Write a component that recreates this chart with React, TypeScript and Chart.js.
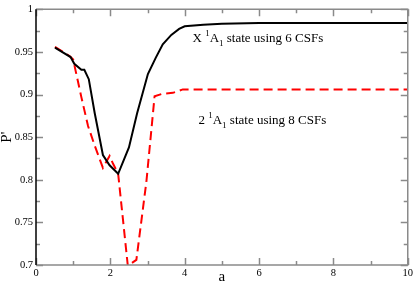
import React, { useEffect, useRef } from "react";
import { Chart, registerables } from "chart.js";

Chart.register(...registerables);

const blackX = [0.51, 0.93, 1.03, 1.22, 1.3, 1.42, 1.58, 1.8, 1.98, 2.21, 2.5, 2.72, 3.01, 3.22, 3.41, 3.64, 3.85, 4.0, 4.5, 5.0, 6, 7, 8, 9, 10];
const blackY = [0.955, 0.944, 0.936, 0.929, 0.929, 0.918, 0.878, 0.829, 0.817, 0.807, 0.838, 0.878, 0.924, 0.943, 0.959, 0.97, 0.977, 0.98, 0.982, 0.983, 0.984, 0.984, 0.984, 0.984, 0.984];
const redX = [0.51, 0.91, 1.0, 1.22, 1.4, 1.58, 1.8, 1.98, 2.07, 2.21, 2.47, 2.7, 2.97, 3.19, 3.41, 3.68, 3.95, 4.5, 5, 6, 7, 8, 9, 10];
const redY = [0.956, 0.945, 0.941, 0.897, 0.863, 0.84, 0.814, 0.828, 0.819, 0.807, 0.699, 0.706, 0.798, 0.898, 0.901, 0.902, 0.906, 0.906, 0.906, 0.906, 0.906, 0.906, 0.906, 0.906];
const xTicks = [0, 2, 4, 6, 8, 10];
const yTicks = [0.7, 0.75, 0.8, 0.85, 0.9, 0.95, 1];
const xMinorTicks = [1, 3, 5, 7, 9];
const yMinorTicks = [0.725, 0.775, 0.825, 0.875, 0.925, 0.975];
const labelBlack = { x: 4.21, y: 0.962, pre: "X ", sup: "1", main: "A", sub: "1", post: " state using 6 CSFs" };
const labelRed = { x: 4.37, y: 0.865, pre: "2 ", sup: "1", main: "A", sub: "1", post: " state using 8 CSFs" };

const SERIF = "'Liberation Serif', 'Times New Roman', serif";

const framePlugin = {
  id: "frame",
  afterDatasetsDraw(chart: any) {
    const ctx = chart.ctx;
    const { left, right, top, bottom } = chart.chartArea;
    const xs = chart.scales.x;
    const ys = chart.scales.y;
    ctx.save();
    ctx.strokeStyle = "#8a8a8a";
    ctx.lineWidth = 1.5;
    const major = 7;
    const minor = 4;
    const tickX = (v: number, len: number) => {
      const p = Math.round(xs.getPixelForValue(v)) + 0.5;
      ctx.beginPath();
      ctx.moveTo(p, bottom);
      ctx.lineTo(p, bottom - len);
      ctx.moveTo(p, top);
      ctx.lineTo(p, top + len);
      ctx.stroke();
    };
    const tickY = (v: number, len: number) => {
      const p = Math.round(ys.getPixelForValue(v)) + 0.5;
      ctx.beginPath();
      ctx.moveTo(left, p);
      ctx.lineTo(left + len, p);
      ctx.moveTo(right, p);
      ctx.lineTo(right - len, p);
      ctx.stroke();
    };
    xTicks.forEach((v) => tickX(v, major));
    xMinorTicks.forEach((v) => tickX(v, minor));
    yTicks.forEach((v) => tickY(v, major));
    yMinorTicks.forEach((v) => tickY(v, minor));
    // frame
    ctx.beginPath();
    ctx.moveTo(left, bottom);
    ctx.lineTo(right, bottom);
    ctx.lineTo(right, top);
    ctx.lineTo(left, top);
    ctx.stroke();
    ctx.strokeStyle = "#000";
    ctx.beginPath();
    ctx.moveTo(left, top);
    ctx.lineTo(left, bottom);
    ctx.stroke();

    // annotations
    const drawLabel = (l: any) => {
      let px = xs.getPixelForValue(l.x);
      const py = ys.getPixelForValue(l.y);
      ctx.fillStyle = "#000";
      ctx.textBaseline = "alphabetic";
      ctx.textAlign = "left";
      const big = `13px ${SERIF}`;
      const small = `9px ${SERIF}`;
      ctx.font = big;
      ctx.fillText(l.pre, px, py);
      px += ctx.measureText(l.pre).width;
      ctx.font = small;
      ctx.fillText(l.sup, px, py - 6);
      px += ctx.measureText(l.sup).width;
      ctx.font = big;
      ctx.fillText(l.main, px, py);
      px += ctx.measureText(l.main).width;
      ctx.font = small;
      ctx.fillText(l.sub, px, py + 4);
      px += ctx.measureText(l.sub).width;
      ctx.font = big;
      ctx.fillText(l.post, px, py);
    };
    drawLabel(labelBlack);
    drawLabel(labelRed);
    ctx.restore();
  },
};

export default function App() {
  const ref = useRef<HTMLCanvasElement>(null);
  useEffect(() => {
    document.body.style.margin = "0";
    const chart = new Chart(ref.current!, {
      type: "line",
      data: {
        datasets: [
          {
            data: blackX.map((x, i) => ({ x, y: blackY[i] })),
            borderColor: "#000",
            borderWidth: 2,
            pointRadius: 0,
            tension: 0,
            fill: false,
          },
          {
            data: redX.map((x, i) => ({ x, y: redY[i] })),
            borderColor: "#ff0000",
            borderWidth: 2,
            borderDash: [9, 5],
            pointRadius: 0,
            tension: 0,
            fill: false,
          },
        ],
      },
      options: {
        animation: false,
        responsive: false,
        maintainAspectRatio: false,
        layout: { padding: { top: 4, right: 6, left: 0, bottom: 0 } },
        plugins: { legend: { display: false }, tooltip: { enabled: false } },
        scales: {
          x: {
            type: "linear",
            min: 0,
            max: 10,
            afterFit(scale: any) {
              scale.height = 23;
            },
            afterBuildTicks(scale: any) {
              scale.ticks = xTicks.map((v) => ({ value: v }));
            },
            grid: { display: false, drawTicks: false },
            border: { display: false },
            ticks: {
              padding: 2,
              color: "#000",
              font: { family: SERIF, size: 10.5 },
              maxRotation: 0,
              callback: (v: any) => String(v),
            },
            title: {
              display: true,
              text: "a",
              color: "#000",
              font: { family: SERIF, size: 15, lineHeight: 1 },
              padding: { top: 0, bottom: 3 },
            },
          },
          y: {
            type: "linear",
            min: 0.7,
            max: 1,
            afterFit(scale: any) {
              scale.width = 36;
            },
            afterBuildTicks(scale: any) {
              scale.ticks = yTicks.map((v) => ({ value: v }));
            },
            grid: { display: false, drawTicks: false },
            border: { display: false },
            ticks: {
              padding: 3,
              color: "#000",
              font: { family: SERIF, size: 10.5 },
              callback: (v: any) => String(Math.round(v * 1000) / 1000),
            },
            title: {
              display: true,
              text: "P'",
              color: "#000",
              font: { family: SERIF, size: 15, lineHeight: 1 },
              padding: 0,
            },
          },
        },
      },
      plugins: [framePlugin],
    } as any);
    return () => chart.destroy();
  }, []);
  return (
    <div style={{ width: 415, height: 288 }}>
      <canvas ref={ref} width={415} height={288} style={{ display: "block" }} />
    </div>
  );
}
